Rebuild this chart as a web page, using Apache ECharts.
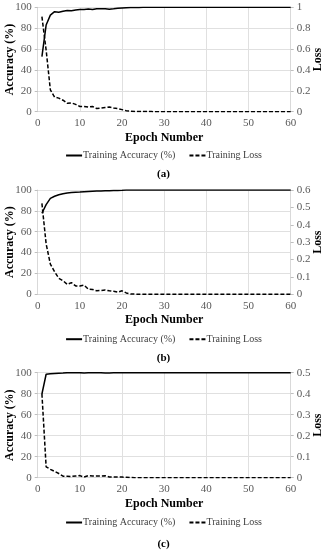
<!DOCTYPE html>
<html>
<head>
<meta charset="utf-8">
<script src="https://cdn.jsdelivr.net/npm/echarts@6/dist/echarts.min.js"></script>
<style>
html,body{margin:0;padding:0;background:#fff;}
#c{width:327px;height:550px;}
</style>
</head>
<body>
<div id="c"></div>
<script>
const xTicks = [0, 10, 20, 30, 40, 50, 60];
const epochs = [1,2,3,4,5,6,7,8,9,10,11,12,13,14,15,16,17,18,19,20,21,22,23,24,25,26,27,28,29,30,31,32,33,34,35,36,37,38,39,40,41,42,43,44,45,46,47,48,49,50,51,52,53,54,55,56,57,58,59,60];

const accA = [52.7,83,92.5,95.8,95.3,96.2,97,96.6,97.5,98,98,98.3,97.9,98.7,98.5,98.7,98.2,98.5,99,99.3,99.5,99.7,99.8,99.9,100,100,100,100,100,100,100,100,100,100,100,100,100,100,100,100,100,100,100,100,100,100,100,100,100,100,100,100,100,100,100,100,100,100,100,100];
const lossA = [0.91,0.59,0.21,0.14,0.13,0.11,0.08,0.085,0.07,0.05,0.05,0.045,0.05,0.03,0.035,0.04,0.045,0.035,0.03,0.02,0.01,0.005,0.003,0.002,0.001,0.001,0.001,0,0,0,0,0,0,0,0,0,0,0,0,0,0,0,0,0,0,0,0,0,0,0,0,0,0,0,0,0,0,0,0,0];

const accB = [77.7,86,92,94,95.5,96.5,97.2,97.5,97.8,98,98.3,98.6,98.8,99,99,99.2,99.4,99.5,99.6,99.7,99.9,100,100,100,100,100,100,100,100,100,100,100,100,100,100,100,100,100,100,100,100,100,100,100,100,100,100,100,100,100,100,100,100,100,100,100,100,100,100,100];
const lossB = [0.523,0.29,0.174,0.13,0.092,0.078,0.057,0.067,0.048,0.048,0.053,0.03,0.028,0.02,0.022,0.025,0.02,0.017,0.012,0.02,0.008,0.002,0.001,0,0,0,0,0,0,0,0,0,0,0,0,0,0,0,0,0,0,0,0,0,0,0,0,0,0,0,0,0,0,0,0,0,0,0,0,0];

const accC = [79.7,98.5,99,99.3,99.5,99.7,100,99.9,99.9,100,99.8,99.9,100,100,99.9,99.7,99.8,99.9,100,100,100,100,100,100,100,100,100,100,100,100,100,100,100,100,100,100,100,100,100,100,100,100,100,100,100,100,100,100,100,100,100,100,100,100,100,100,100,100,100,100];
const lossC = [0.4,0.052,0.04,0.03,0.02,0.007,0.007,0.006,0.008,0.01,0.003,0.01,0.008,0.008,0.008,0.009,0.003,0.003,0.003,0.003,0.002,0.001,0,0,0,0,0,0,0,0,0,0,0,0,0,0,0,0,0,0,0,0,0,0,0,0,0,0,0,0,0,0,0,0,0,0,0,0,0,0];

const lossMax = [1, 0.6, 0.5];
const lossInterval = [0.2, 0.1, 0.1];
const panelLabels = ['(a)', '(b)', '(c)'];
const accName = 'Training Accuracy (%)';
const lossName = 'Training Loss';

const FONT = 'Liberation Serif';
const grids = [
  {left: 37.7, right: 36.3, top: 7.3, height: 104.4, outerBoundsMode: 'none', containLabel: false},
  {left: 37.7, right: 36.3, top: 190, height: 104.3, outerBoundsMode: 'none', containLabel: false},
  {left: 37.7, right: 36.3, top: 372.7, height: 105, outerBoundsMode: 'none', containLabel: false}
];
const legendTops = [145.5, 329.2, 512.5];
const labelYs = [176, 360, 545.5];

const pair = arr => arr.map((v, i) => [epochs[i], v]);
const accs = [accA, accB, accC];
const losses = [lossA, lossB, lossC];

const axisLabel = {fontFamily: FONT, fontSize: 11, color: '#595959'};
const xAxis = [], yAxis = [], series = [], legend = [], graphic = [];
for (let k = 0; k < 3; k++) {
  xAxis.push({
    type: 'value', gridIndex: k, min: xTicks[0], max: xTicks[xTicks.length-1], interval: 10,
    name: 'Epoch Number', nameLocation: 'middle', nameGap: 20, nameMoveOverlap: false,
    nameTextStyle: {fontFamily: FONT, fontSize: 12, fontWeight: 'bold', color: '#000'},
    axisLine: {show: true, lineStyle: {color: '#d9d9d9'}},
    axisTick: {show: false},
    axisLabel: Object.assign({margin: 6}, axisLabel),
    splitLine: {show: true, lineStyle: {color: '#e0e0e0', width: 1}}
  });
  yAxis.push({
    type: 'value', gridIndex: k, min: 0, max: 100, interval: 20, position: 'left',
    name: 'Accuracy (%)', nameLocation: 'middle', nameGap: 22, nameRotate: 90, nameMoveOverlap: false,
    nameTextStyle: {fontFamily: FONT, fontSize: 12, fontWeight: 'bold', color: '#000'},
    axisLine: {show: true, lineStyle: {color: '#d9d9d9'}},
    axisTick: {show: true, length: 3, lineStyle: {color: '#bfbfbf'}},
    axisLabel: Object.assign({margin: 6}, axisLabel),
    splitLine: {show: true, lineStyle: {color: '#e0e0e0', width: 1}}
  });
  yAxis.push({
    type: 'value', gridIndex: k, min: 0, max: lossMax[k], interval: lossInterval[k], position: 'right',
    name: 'Loss', nameLocation: 'middle', nameGap: 21, nameRotate: 90, nameMoveOverlap: false,
    nameTextStyle: {fontFamily: FONT, fontSize: 12, fontWeight: 'bold', color: '#000'},
    axisLine: {show: true, lineStyle: {color: '#d9d9d9'}},
    axisTick: {show: true, length: 3, lineStyle: {color: '#bfbfbf'}},
    axisLabel: Object.assign({margin: 6}, axisLabel),
    splitLine: {show: false}
  });
  series.push({
    name: accName, id: 'acc' + k, type: 'line', xAxisIndex: k, yAxisIndex: 2*k,
    data: pair(accs[k]), symbol: 'none', smooth: false,
    lineStyle: {color: '#000', width: 1.5, type: 'solid'}, itemStyle: {color: '#000'}, z: 3
  });
  series.push({
    name: lossName, id: 'loss' + k, type: 'line', xAxisIndex: k, yAxisIndex: 2*k+1,
    data: pair(losses[k]), symbol: 'none', smooth: false,
    lineStyle: {color: '#000', width: 1.5, type: [4, 2]}, itemStyle: {color: '#000'}, z: 3
  });
  legend.push({
    top: legendTops[k], left: 'center', itemWidth: 16, itemHeight: 12, itemGap: 13,
    textStyle: {fontFamily: FONT, fontSize: 10, color: '#404040', padding: [0,0,0,-4]},
    itemStyle: {opacity: 0, color: 'transparent', borderColor: 'transparent', borderWidth: 0},
    lineStyle: {inherit: true},
    data: [{name: accName}, {name: lossName}],
    selectedMode: false
  });
  graphic.push({
    type: 'text', left: 'center', top: labelYs[k] - 7,
    style: {text: panelLabels[k], font: 'bold 11px "' + FONT + '"', fill: '#000'}
  });
}

const chart = echarts.init(document.getElementById('c'), null, {renderer: 'canvas'});
chart.setOption({
  animation: false,
  backgroundColor: '#fff',
  grid: grids,
  xAxis, yAxis, series, legend, graphic
});
</script>
</body>
</html>
